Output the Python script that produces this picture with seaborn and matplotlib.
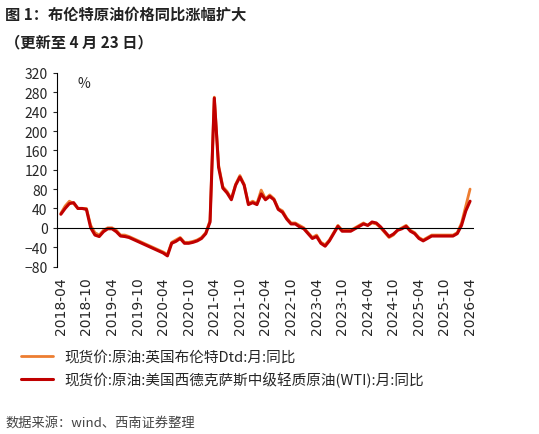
import matplotlib
matplotlib.use("Agg")
import matplotlib.pyplot as plt
import seaborn as sns
import pandas as pd

sns.set_style("white")
plt.rcParams['font.family'] = ['Noto Sans CJK SC', 'DejaVu Sans']

months = pd.period_range("2018-04", "2026-04", freq="M").strftime("%Y-%m").tolist()
brent = [30, 45, 55, 50, 40, 40, 40, 5, -10, -15, -5, 0,
         0, -5, -15, -15, -18, -22, -26, -30, -34, -38, -42, -46,
         -50, -55, -30, -25, -20, -30, -30, -28, -25, -20, -10, 15,
         270, 130, 85, 75, 60, 90, 108, 90, 50, 55, 50, 78,
         60, 68, 60, 40, 35, 20, 10, 10, 5, 0, -10, -20,
         -15, -30, -35, -25, -10, 5, -5, -5, -5, 0, 5, 10,
         5, 10, 8, 0, -10, -20, -15, -5, 0, 5, -5, -10,
         -20, -25, -20, -15, -15, -15, -15, -15, -15, -10, 10, 45, 80]
wti = [28, 40, 50, 52, 40, 40, 38, 0, -15, -18, -8, -2,
       -2, -8, -17, -18, -20, -24, -28, -32, -36, -40, -44, -48,
       -52, -58, -32, -28, -22, -32, -32, -30, -27, -22, -12, 12,
       268, 125, 82, 72, 58, 88, 105, 88, 48, 52, 48, 70,
       58, 65, 58, 38, 32, 18, 8, 8, 2, -2, -12, -22,
       -18, -32, -38, -27, -12, 3, -7, -7, -7, -2, 3, 8,
       5, 12, 10, 2, -8, -18, -13, -5, -2, 3, -7, -12,
       -22, -27, -22, -17, -17, -17, -17, -17, -17, -12, 5, 35, 55]
labels = ["现货价:原油:英国布伦特Dtd:月:同比",
          "现货价:原油:美国西德克萨斯中级轻质原油(WTI):月:同比"]

df = pd.DataFrame({"i": range(len(months)), "b": brent, "w": wti})

fig = plt.figure(figsize=(5.39, 4.35), dpi=100)
ax = fig.add_axes([0.105, 0.385, 0.775, 0.445])
sns.lineplot(data=df, x="i", y="b", ax=ax, color="#ED7D31", lw=2, label=labels[0])
sns.lineplot(data=df, x="i", y="w", ax=ax, color="#C00000", lw=2.2, label=labels[1])
ax.axhline(0, color="black", lw=0.8)
ax.set_ylim(-80, 320)
ax.set_yticks(range(-80, 321, 40))
ax.set_xlim(-1, len(months))
ax.set_xticks(range(0, len(months), 6))
ax.set_xticklabels([months[i] for i in range(0, len(months), 6)], rotation=90, fontsize=10, family=['DejaVu Sans'])
ax.tick_params(axis='y', labelsize=10)
ax.set_xlabel(""); ax.set_ylabel("")
for s in ["top", "right", "bottom"]:
    ax.spines[s].set_visible(False)
ax.spines["left"].set_color("black")
ax.tick_params(axis='y', left=True, length=3)
ax.text(0.05, 0.93, "%", transform=ax.transAxes, fontsize=10)
ax.legend(loc="upper left", bbox_to_anchor=(-0.1, -0.4), frameon=False, fontsize=10.5, handlelength=2.2, borderaxespad=0, labelspacing=0.55)

fig.text(0.01, 0.955, "图 1：布伦特原油价格同比涨幅扩大", fontsize=11, fontweight="bold", color="#222")
fig.text(0.01, 0.89, "（更新至 4 月 23 日）", fontsize=11, fontweight="bold", color="#222")
fig.text(0.01, 0.02, "数据来源：wind、西南证券整理", fontsize=9.5, style="italic", color="#444")
fig.savefig("out.png", dpi=100)
